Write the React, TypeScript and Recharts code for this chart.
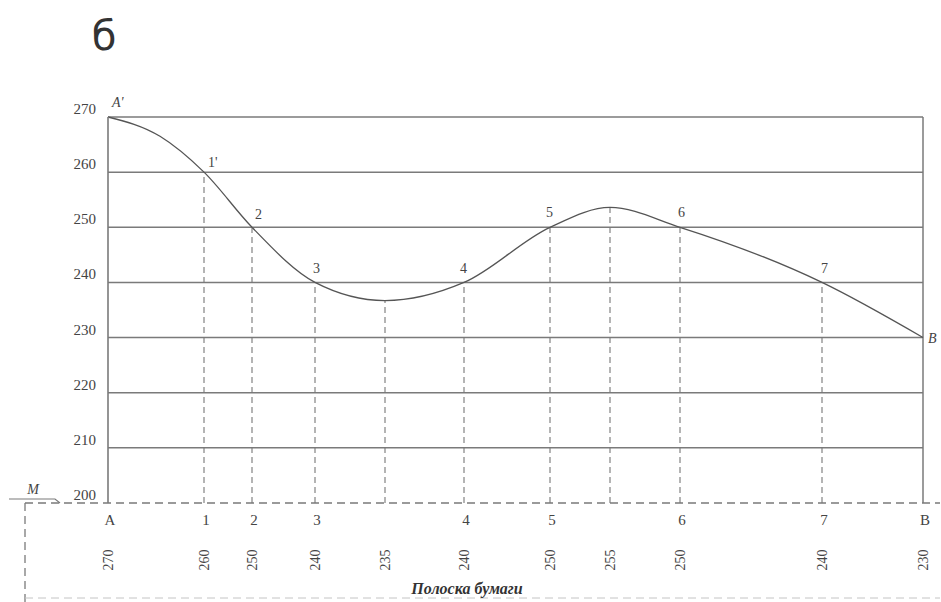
import { ComposedChart, Line, XAxis, YAxis, ReferenceLine, LabelList } from 'recharts';

// точки профиля: расстояние от A (в условных единицах) и отметка
// (вторая точка снята с кривой между A и 1, без подписи)
const pointNames = ['A', '', '1', '2', '3', '', '4', '5', '', '6', '7', 'B'];
const curveLabels = ["A'", '', "1'", '2', '3', '', '4', '5', '', '6', '7', 'B'];
const distances = [0, 52, 96, 144, 207, 277, 356, 442, 502, 572, 714, 815];
const elevations = [270, 266.5, 260, 250, 240, 236.7, 240, 250, 253.6, 250, 240, 230];
const stripMarks = ['270', '', '260', '250', '240', '235', '240', '250', '255', '250', '240', '230'];
const elevationTicks = [200, 210, 220, 230, 240, 250, 260, 270];

const data = distances.map((d, i) => ({
  dist: d,
  elev: elevations[i],
  label: curveLabels[i],
  mark: stripMarks[i],
}));

const stripTicks = distances.filter((_, i) => stripMarks[i] !== '');

const SERIF = '"Liberation Serif", "DejaVu Serif", serif';
const GRID = '#7a7a7a';
const TEXT = '#444';

// смещения подписей точек на кривой
const labelOffsets: Record<string, [number, number, string]> = {
  "A'": [4, -10, 'italic'],
  "1'": [4, -5, 'normal'],
  '2': [3, -8, 'normal'],
  '3': [-2, -9, 'normal'],
  '4': [-4, -9, 'normal'],
  '5': [-4, -10, 'normal'],
  '6': [-2, -10, 'normal'],
  '7': [-1, -9, 'normal'],
  B: [5, 5, 'italic'],
};

function CurveLabel(props: any) {
  const { x, y, value } = props;
  if (!value) return null;
  const [dx, dy, style] = labelOffsets[value] || [0, -10, 'normal'];
  return (
    <text x={x + dx} y={y + dy} style={{ fontFamily: SERIF, fontSize: 14, fontStyle: style }} fill={TEXT}>
      {value}
    </text>
  );
}

function ElevTick(props: any) {
  const { x, y, payload } = props;
  return (
    <text x={x - 4} y={y - 3} textAnchor="end" style={{ fontFamily: SERIF, fontSize: 15 }} fill={TEXT}>
      {payload.value}
    </text>
  );
}

function StripTick(props: any) {
  const { x, y, payload } = props;
  const i = distances.indexOf(payload.value);
  if (i < 0) return null;
  const cy = y + 49;
  return (
    <g>
      <text x={x + 2} y={y + 14} textAnchor="middle" style={{ fontFamily: SERIF, fontSize: 15 }} fill={TEXT}>
        {pointNames[i]}
      </text>
      <text
        x={x}
        y={cy}
        transform={`rotate(-90 ${x} ${cy})`}
        textAnchor="middle"
        dominantBaseline="central"
        style={{ fontFamily: SERIF, fontSize: 14 }}
        fill={TEXT}
      >
        {stripMarks[i]}
      </text>
    </g>
  );
}

export default function App() {
  return (
    <div style={{ position: 'absolute', left: 0, top: 0, width: 941, height: 602, background: '#fff' }}>
      <svg width={941} height={602} style={{ position: 'absolute', left: 0, top: 0 }}>
        <text x={104} y={50} textAnchor="middle" style={{ fontFamily: '"DejaVu Sans", sans-serif', fontSize: 40 }} fill="#333">
          б
        </text>
        {/* полоска бумаги */}
        <line x1={25} y1={503} x2={940} y2={503} stroke={GRID} strokeWidth={1.3} strokeDasharray="8 5" />
        <line x1={25} y1={503} x2={25} y2={602} stroke={GRID} strokeWidth={1.3} strokeDasharray="8 5" />
        <line x1={25} y1={598} x2={940} y2={598} stroke="#c4c4c4" strokeWidth={1} strokeDasharray="8 5" />
        <polyline points="9,499 55,499 60,503" fill="none" stroke={GRID} strokeWidth={1.2} />
        <text x={33} y={494} textAnchor="middle" style={{ fontFamily: SERIF, fontSize: 14, fontStyle: 'italic' }} fill={TEXT}>
          M
        </text>
        <text
          x={467}
          y={594}
          textAnchor="middle"
          style={{ fontFamily: SERIF, fontSize: 16, fontStyle: 'italic', fontWeight: 'bold' }}
          fill="#333"
        >
          Полоска бумаги
        </text>
      </svg>
      <div style={{ position: 'absolute', left: 0, top: 0 }}>
        <ComposedChart width={941} height={602} data={data} margin={{ top: 117, right: 18, bottom: 0, left: 48 }}>
          <XAxis
            dataKey="dist"
            type="number"
            domain={[0, 815]}
            ticks={stripTicks}
            height={99}
            axisLine={false}
            tickLine={false}
            interval={0}
            tick={<StripTick />}
          />
          <YAxis
            type="number"
            domain={[200, 270]}
            ticks={elevationTicks}
            width={60}
            axisLine={{ stroke: GRID, strokeWidth: 1.6 }}
            tickLine={false}
            interval={0}
            tick={<ElevTick />}
          />
          {elevationTicks
            .filter((t) => t > 200)
            .map((t) => (
              <ReferenceLine key={`h-${t}`} y={t} stroke={GRID} strokeWidth={1.5} />
            ))}
          <ReferenceLine x={distances[distances.length - 1]} stroke={GRID} strokeWidth={1.5} />
          {data
            .slice(1, -1)
            .filter((p) => p.mark !== '')
            .map((p, i) => (
              <ReferenceLine
                key={`v-${i}`}
                segment={[
                  { x: p.dist, y: 200 },
                  { x: p.dist, y: p.elev },
                ]}
                stroke="#777"
                strokeWidth={1.1}
                strokeDasharray="6 4"
              />
            ))}
          <Line
            type="monotone"
            dataKey="elev"
            stroke="#555"
            strokeWidth={1.3}
            dot={false}
            isAnimationActive={false}
          >
            <LabelList dataKey="label" content={<CurveLabel />} />
          </Line>
        </ComposedChart>
      </div>
    </div>
  );
}
